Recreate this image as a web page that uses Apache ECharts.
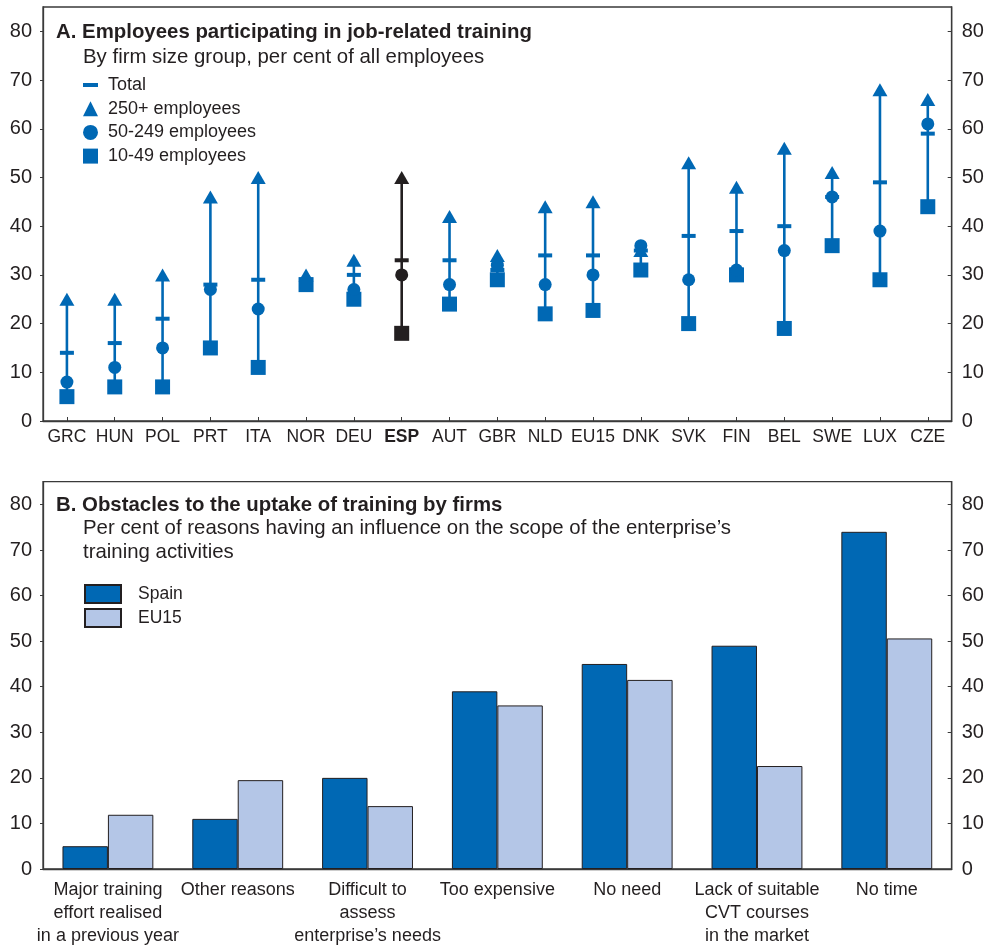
<!DOCTYPE html>
<html>
<head>
<meta charset="utf-8">
<script src="https://cdn.jsdelivr.net/npm/echarts@6/dist/echarts.min.js"></script>
<style>
html,body{margin:0;padding:0;background:#fff;}
#chart{width:989px;height:948px;}
</style>
</head>
<body>
<div id="chart"></div>
<script>
// ---- Panel A data ----
var countries = ['GRC','HUN','POL','PRT','ITA','NOR','DEU','ESP','AUT','GBR','NLD','EU15','DNK','SVK','FIN','BEL','SWE','LUX','CZE'];
var totalVals  = [14, 16, 21, 28, 29, 29, 30, 33, 33, 31, 34, 34, 35, 38, 39, 40, 46, 49, 59];
var large250   = [25, 25, 30, 46, 50, 30, 33, 50, 42, 34, 44, 45, 35, 53, 48, 56, 51, 68, 66];
var medium50   = [8, 11, 15, 27, 23, 28, 27, 30, 28, 32, 28, 30, 36, 29, 31, 35, 46, 39, 61];
var small10    = [5, 7, 7, 15, 11, 28, 25, 18, 24, 29, 22, 22.7, 31, 20, 30, 19, 36, 29, 44];
var highlight  = 'ESP';

// ---- Panel B data ----
var reasons = ['Major training\neffort realised\nin a previous year', 'Other reasons', 'Difficult to\nassess\nenterprise\u2019s needs', 'Too expensive', 'No need', 'Lack of suitable\nCVT courses\nin the market', 'No time'];
var spainVals = [5, 11, 20, 39, 45, 49, 74];
var eu15Vals  = [11.9, 19.5, 13.8, 35.9, 41.5, 22.6, 50.6];

var yTicks = [0, 10, 20, 30, 40, 50, 60, 70, 80];

var BLUE = '#0068b4';
var BLACK = '#231f20';
var LIGHT = '#b4c6e7';
var AXIS = '#3a3a3a';
var FONT = '"Liberation Sans", Arial, Helvetica, sans-serif';

function pointData(arr) {
  return arr.map(function (v, i) {
    var item = { value: [i, v] };
    if (countries[i] === highlight) item.itemStyle = { color: BLACK };
    return item;
  });
}

var dashIcon = 'path://M0,0 M15,15 M0,5.5 L15,5.5 L15,9.5 L0,9.5 Z';

function yAxisDef(gridIndex, right) {
  return {
    type: 'value', gridIndex: gridIndex, min: 0, max: 85, interval: 10,
    position: right ? 'right' : 'left',
    splitLine: { show: false },
    axisLine: { show: true, lineStyle: { color: AXIS, width: 1.3 } },
    axisTick: { show: true, inside: !!right, length: right ? 4 : 3, lineStyle: { color: AXIS }, customValues: yTicks },
    axisLabel: { color: BLACK, fontSize: 20, fontFamily: FONT, margin: right ? 10 : 11, customValues: yTicks }
  };
}

var chart = echarts.init(document.getElementById('chart'), null, { renderer: 'canvas' });

var option = {
  backgroundColor: '#fff',
  animation: false,
  textStyle: { fontFamily: FONT },
  title: [
    { text: 'A. Employees participating in job-related training', left: 56, top: 22, padding: 0,
      textStyle: { fontSize: 20.4, fontWeight: 'bold', color: BLACK, fontFamily: FONT } },
    { text: 'By firm size group, per cent of all employees', left: 83, top: 47, padding: 0,
      textStyle: { fontSize: 20.4, fontWeight: 'normal', color: BLACK, fontFamily: FONT } },
    { text: 'B. Obstacles to the uptake of training by firms', left: 56, top: 495, padding: 0,
      textStyle: { fontSize: 20.4, fontWeight: 'bold', color: BLACK, fontFamily: FONT } },
    { text: 'Per cent of reasons having an influence on the scope of the enterprise\u2019s\ntraining activities', left: 83, top: 516, padding: 0,
      textStyle: { fontSize: 20.4, fontWeight: 'normal', color: BLACK, fontFamily: FONT, lineHeight: 24 } }
  ],
  legend: [
    {
      orient: 'vertical', left: 83, top: 76, padding: 0, itemWidth: 15, itemHeight: 15, itemGap: 5.7,
      textStyle: { fontSize: 18, color: BLACK, fontFamily: FONT, padding: [0, 0, 0, 5] },
      data: [
        { name: 'Total', icon: dashIcon },
        { name: '250+ employees', icon: 'triangle' },
        { name: '50-249 employees', icon: 'circle' },
        { name: '10-49 employees', icon: 'rect' }
      ]
    },
    {
      orient: 'vertical', left: 84, top: 584, padding: 0, itemWidth: 36, itemHeight: 18, itemGap: 4,
      textStyle: { fontSize: 17.5, color: BLACK, fontFamily: FONT, padding: [0, 0, 0, 12] },
      data: [{ name: 'Spain', icon: 'rect' }, { name: 'EU15', icon: 'rect' }]
    }
  ],
  grid: [
    { left: 43, right: 37.3, top: 7, height: 414, show: true, borderColor: AXIS, borderWidth: 1.3, backgroundColor: 'transparent' },
    { left: 43, right: 37.3, top: 481.7, height: 392.3, show: true, borderColor: AXIS, borderWidth: 1.3, backgroundColor: 'transparent' }
  ],
  xAxis: [
    {
      type: 'category', gridIndex: 0, data: countries, boundaryGap: true,
      axisLine: { show: true, lineStyle: { color: AXIS, width: 1.3 } },
      axisTick: { show: true, inside: true, length: 4, alignWithLabel: true, lineStyle: { color: AXIS } },
      axisLabel: {
        interval: 0, margin: 7, color: BLACK, fontSize: 17.5, fontFamily: FONT,
        formatter: function (v) { return v === highlight ? '{b|' + v + '}' : v; },
        rich: { b: { fontWeight: 'bold', fontSize: 17.5, color: BLACK, fontFamily: FONT } }
      }
    },
    {
      type: 'category', gridIndex: 1, data: reasons,
      axisLine: { show: true, lineStyle: { color: AXIS, width: 1.3 } },
      axisTick: { show: false },
      axisLabel: { interval: 0, margin: 10, color: BLACK, fontSize: 18, fontFamily: FONT, lineHeight: 23 }
    }
  ],
  yAxis: [yAxisDef(0, false), yAxisDef(0, true), yAxisDef(1, false), yAxisDef(1, true)],
  series: [
    {
      type: 'custom', name: 'range', xAxisIndex: 0, yAxisIndex: 0, z: 1, silent: true,
      encode: { x: 0, y: [1, 2] },
      data: countries.map(function (c, i) { return [i, small10[i], large250[i]]; }),
      renderItem: function (params, api) {
        var i = api.value(0);
        var lo = api.coord([i, api.value(1)]);
        var hi = api.coord([i, api.value(2)]);
        return {
          type: 'line',
          shape: { x1: lo[0], y1: lo[1], x2: hi[0], y2: hi[1] },
          style: { stroke: countries[i] === highlight ? BLACK : BLUE, lineWidth: 2.6 }
        };
      }
    },
    { type: 'scatter', name: '10-49 employees', xAxisIndex: 0, yAxisIndex: 0, z: 2,
      symbol: 'rect', symbolSize: 15, itemStyle: { color: BLUE, opacity: 1 }, data: pointData(small10) },
    { type: 'scatter', name: '50-249 employees', xAxisIndex: 0, yAxisIndex: 0, z: 3,
      symbol: 'circle', symbolSize: 13, itemStyle: { color: BLUE, opacity: 1 }, data: pointData(medium50) },
    { type: 'scatter', name: '250+ employees', xAxisIndex: 0, yAxisIndex: 0, z: 4,
      symbol: 'triangle', symbolSize: [15, 13], itemStyle: { color: BLUE, opacity: 1 }, data: pointData(large250) },
    { type: 'scatter', name: 'Total', xAxisIndex: 0, yAxisIndex: 0, z: 5,
      symbol: 'rect', symbolSize: [14, 4], itemStyle: { color: BLUE, opacity: 1 }, data: pointData(totalVals) },
    { type: 'bar', name: 'Spain', xAxisIndex: 1, yAxisIndex: 2, data: spainVals,
      barGap: '0%', barCategoryGap: '30%',
      itemStyle: { color: BLUE, borderColor: BLACK, borderWidth: 1 } },
    { type: 'bar', name: 'EU15', xAxisIndex: 1, yAxisIndex: 2, data: eu15Vals,
      barGap: '0%', barCategoryGap: '30%',
      itemStyle: { color: LIGHT, borderColor: BLACK, borderWidth: 1 } }
  ]
};

chart.setOption(option);
</script>
</body>
</html>
